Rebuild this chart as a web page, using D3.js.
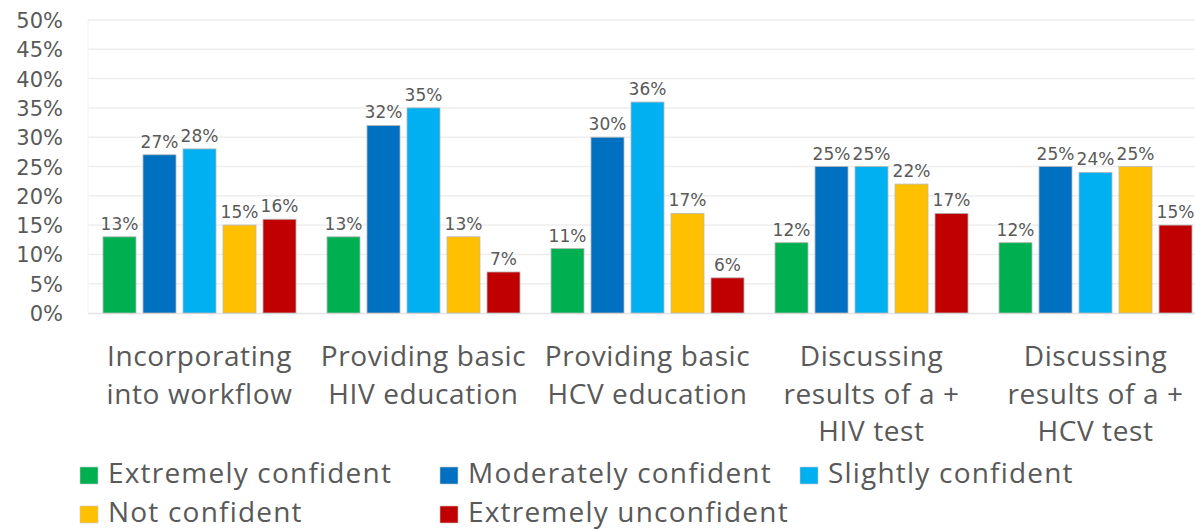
<!DOCTYPE html>
<html><head><meta charset="utf-8">
<script src="https://cdn.jsdelivr.net/npm/d3@7"></script>
<style>body{margin:0;background:#fff}svg{display:block}</style>
</head><body>
<svg id="c" width="1195" height="529"></svg>
<script>
const categories = [
  ["Incorporating","into workflow"],
  ["Providing basic","HIV education"],
  ["Providing basic","HCV education"],
  ["Discussing","results of a +","HIV test"],
  ["Discussing","results of a +","HCV test"]
];
const seriesNames = ["Extremely confident","Moderately confident","Slightly confident","Not confident","Extremely unconfident"];
const seriesColors = ["#00B050","#0070C0","#00B0F0","#FFC000","#C00000"];
const extremelyConfident = [13,13,11,12,12];
const moderatelyConfident = [27,32,30,25,25];
const slightlyConfident = [28,35,36,25,24];
const notConfident = [15,13,17,22,25];
const extremelyUnconfident = [16,7,6,17,15];
const yTicks = [0,5,10,15,20,25,30,35,40,45,50];

const seriesValues = [extremelyConfident, moderatelyConfident, slightlyConfident, notConfident, extremelyUnconfident];
const svg = d3.select("#c");
const plotLeft = 88, plotTop = 20, plotBottom = 313, bandW = 224;
const x0 = d3.scaleBand().domain(d3.range(categories.length)).range([plotLeft, plotLeft + bandW*categories.length]).paddingInner(0).paddingOuter(0);
const x1 = d3.scaleBand().domain(d3.range(seriesNames.length)).range([15, 208]).paddingInner(0.175).paddingOuter(0);
const y = d3.scaleLinear().domain([0,50]).range([plotBottom, plotTop]);

// gridlines
svg.append("g").selectAll("line").data(yTicks.slice(1)).join("line")
  .attr("x1", plotLeft).attr("x2", 1195).attr("y1", d=>y(d)).attr("y2", d=>y(d))
  .attr("stroke", "#eeeeee").attr("stroke-width", 1.5);
svg.append("line").attr("x1", plotLeft).attr("x2", 1195).attr("y1", plotBottom+0.5).attr("y2", plotBottom+0.5)
  .attr("stroke", "#e4e4e4").attr("stroke-width", 1.5);
svg.append("line").attr("x1", plotLeft).attr("x2", plotLeft).attr("y1", plotTop).attr("y2", plotBottom)
  .attr("stroke", "#f2f2f2").attr("stroke-width", 1);

// y axis
const yAxis = d3.axisLeft(y).tickValues(yTicks).tickFormat(d=>d+"%").tickSize(0).tickPadding(0);
const ga = svg.append("g").attr("transform", "translate(63,0)").call(yAxis);
ga.select(".domain").remove();
ga.selectAll("text").attr("font-family","DejaVu Sans").attr("font-size","21px").attr("fill","#595959").attr("dy","0.36em");

// bars
const groups = svg.append("g").selectAll("g").data(categories).join("g")
  .attr("transform", (d,i)=>`translate(${x0(i)},0)`);
groups.each(function(_, gi){
  const g = d3.select(this);
  const vals = seriesValues.map(s=>s[gi]);
  g.selectAll("rect").data(vals).join("rect")
    .attr("x", (d,si)=>x1(si)).attr("width", x1.bandwidth())
    .attr("y", d=>y(d)).attr("height", d=>plotBottom - y(d))
    .attr("fill", (d,si)=>seriesColors[si])
    .attr("stroke", "#b8b8b8").attr("stroke-width", 0.8);
  g.selectAll("text.v").data(vals).join("text").attr("class","v")
    .attr("x", (d,si)=>x1(si)+x1.bandwidth()/2).attr("y", d=>y(d)-7)
    .attr("text-anchor","middle").attr("font-family","DejaVu Sans").attr("font-size","17px")
    .attr("fill","#595959").text(d=>d+"%");
  const t = g.append("text").attr("text-anchor","middle").attr("font-family","Open Sans").attr("font-size","28px")
    .attr("letter-spacing","0.6px").attr("fill","#595959");
  categories[gi].forEach((line, li)=>{
    t.append("tspan").attr("x", 111.5).attr("y", 366 + li*37.5).text(line);
  });
});

// legend
const legendPos = [[80,467],[440,467],[800,467],[80,506],[440,506]];
const lg = svg.append("g").selectAll("g").data(seriesNames).join("g")
  .attr("transform", (d,i)=>`translate(${legendPos[i][0]},${legendPos[i][1]})`);
lg.append("rect").attr("width",18).attr("height",17).attr("fill",(d,i)=>seriesColors[i]).attr("stroke","#c8c8c8").attr("stroke-width",0.6);
lg.append("text").attr("x",28).attr("y",16).attr("font-family","Open Sans").attr("font-size","28px")
  .attr("letter-spacing","1.2px").attr("fill","#595959").text(d=>d);
</script>
</body></html>
